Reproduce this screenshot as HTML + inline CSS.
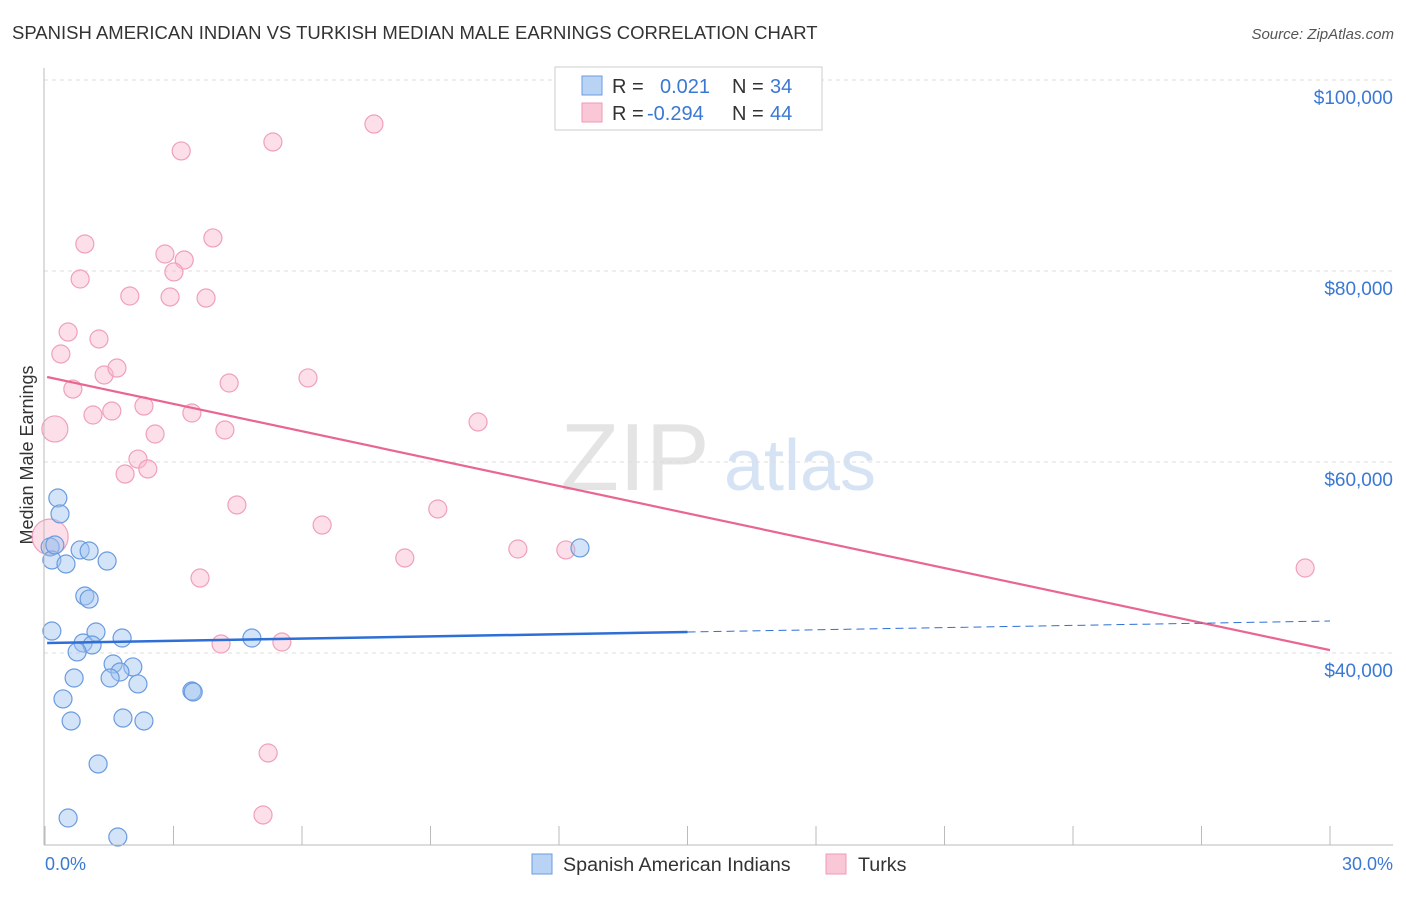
<!DOCTYPE html>
<html><head><meta charset="utf-8"><style>
body{margin:0;background:#fff;font-family:"Liberation Sans",sans-serif}
svg text{font-family:"Liberation Sans",sans-serif}
</style></head><body>
<svg width="1406" height="892" id="c">
<text x="12" y="39" font-size="18.5" fill="#333">SPANISH AMERICAN INDIAN VS TURKISH MEDIAN MALE EARNINGS CORRELATION CHART</text>
<text x="1394" y="39" font-size="15" fill="#555" text-anchor="end" font-style="italic">Source: ZipAtlas.com</text>
<text x="33" y="455" font-size="18" fill="#333" text-anchor="middle" transform="rotate(-90 33 455)">Median Male Earnings</text>
<text x="635" y="490" font-size="96" fill="#e4e4e4" font-family="Liberation Serif" text-anchor="middle">ZIP</text>
<text x="800" y="490" font-size="72" fill="#d6e3f4" text-anchor="middle">atlas</text>
<g id="grid"></g><g id="pts"></g><g id="trend"></g>
<line x1="44" y1="68" x2="44" y2="845" stroke="#bbb"/>
<line x1="44" y1="845" x2="1393" y2="845" stroke="#bbb"/>
<text x="45" y="870" font-size="18" fill="#3a78d4">0.0%</text>
<text x="1393" y="870" font-size="18" fill="#3a78d4" text-anchor="end">30.0%</text>
<g>
<rect x="555" y="67" width="267" height="63" fill="#fff" stroke="#ccc"/>
<rect x="582" y="76" width="20" height="19" fill="#b9d3f5" stroke="#6a9be0"/>
<rect x="582" y="103" width="20" height="19" fill="#f9c7d6" stroke="#f09ab5"/>
<text x="612" y="93" font-size="20" fill="#333">R = </text><text x="660" y="93" font-size="20" fill="#3a78d4">0.021</text>
<text x="732" y="93" font-size="20" fill="#333">N = </text><text x="770" y="93" font-size="20" fill="#3a78d4">34</text>
<text x="612" y="120" font-size="20" fill="#333">R = </text><text x="647" y="120" font-size="20" fill="#3a78d4">-0.294</text>
<text x="732" y="120" font-size="20" fill="#333">N = </text><text x="770" y="120" font-size="20" fill="#3a78d4">44</text>
</g>
<g>
<rect x="532" y="854" width="20" height="20" fill="#b9d3f5" stroke="#6a9be0"/>
<text x="563" y="871" font-size="19.7" fill="#333">Spanish American Indians</text>
<rect x="826" y="854" width="20" height="20" fill="#f9c7d6" stroke="#f09ab5"/>
<text x="858" y="871" font-size="19.7" fill="#333">Turks</text>
</g>
</svg>
<script>
const yTicks=[40000,60000,80000,100000];
const yTickLabels=["$40,000","$60,000","$80,000","$100,000"];
const xTicks=[0,3,6,9,12,15,18,21,24,27,30];
const blueX=[0.30,0.35,0.12,0.16,0.82,1.03,1.45,0.49,0.93,1.03,0.16,1.19,1.80,0.89,1.10,0.75,1.59,2.05,1.75,1.52,2.17,0.68,0.42,1.82,2.31,0.61,1.24,0.54,1.70,3.43,3.46,4.83,12.49,0.23];
const blueY=[56230,54560,51100,49740,50790,50680,49630,49320,45970,45650,42300,42200,41570,41050,40840,40110,38850,38540,38010,37380,36760,37380,35190,33190,32880,32880,28380,22720,20730,36020,35920,41570,51000,51310];
const pinkX=[0.93,0.82,0.54,0.37,1.26,0.65,1.38,1.68,1.12,1.56,2.31,2.57,2.17,2.40,1.87,0.23,0.12,3.18,5.32,7.68,2.80,3.25,3.01,3.92,1.98,2.92,3.76,4.30,3.43,4.20,6.14,10.11,4.48,6.47,9.17,8.40,11.04,12.16,3.62,4.11,5.53,5.21,5.09,29.42];
const pinkY=[82830,79160,73610,71310,72880,67640,69110,69840,64920,65340,65860,62930,60310,59270,58740,63460,52150,92570,93510,95390,81780,81150,79900,83460,77380,77280,77170,68270,65130,63350,68800,64190,55500,53400,55080,49950,50890,50790,47850,40940,41150,29530,23040,48900];
const pinkR=[9,9,9,9,9,9,9,9,9,9,9,9,9,9,9,13,18,9,9,9,9,9,9,9,9,9,9,9,9,9,9,9,9,9,9,9,9,9,9,9,9,9,9,9];
const blueTrend=[41050,43350];
const pinkTrend=[68900,40300];
const NS="http://www.w3.org/2000/svg";
const X=v=>45+v/30*1285;
const Y=v=>80+(100000-v)/20000*191;
function mk(t,a,p){const e=document.createElementNS(NS,t);for(const k in a)e.setAttribute(k,a[k]);p.appendChild(e);return e;}
const grid=document.getElementById('grid'),pts=document.getElementById('pts'),tr=document.getElementById('trend');
yTicks.forEach((v,i)=>{
 const l=mk('line',{x1:44,x2:1393,y1:Y(v),y2:Y(v),stroke:'#ddd','stroke-dasharray':'4,4'},grid);
 
 
 const t=mk('text',{x:1393,y:Y(v)+24,'font-size':19,fill:'#3a78d4','text-anchor':'end'},grid);
 t.textContent=yTickLabels[i];
 
 
});
xTicks.forEach(v=>{
 const l=mk('line',{x1:X(v),x2:X(v),y1:826,y2:845,stroke:'#bbb'},grid);
 
 
});
pinkX.forEach((v,i)=>{
 const c=mk('circle',{cx:X(v),cy:Y(pinkY[i]),r:pinkR[i],fill:'rgba(248,185,205,0.45)',stroke:'#f0a0ba','stroke-width':1.2},pts);
 
 
});
blueX.forEach((v,i)=>{
 const c=mk('circle',{cx:X(v),cy:Y(blueY[i]),r:9,fill:'rgba(160,196,240,0.45)',stroke:'#6a9be0','stroke-width':1.2},pts);
 
 
});
const pl=mk('line',{x1:X(0.05),y1:Y(pinkTrend[0]),x2:X(30),y2:Y(pinkTrend[1]),stroke:'#e8668f','stroke-width':2.2},tr);


const bm=(blueTrend[0]+blueTrend[1])/2;
const bl=mk('line',{x1:X(0.05),y1:Y(blueTrend[0]),x2:X(15),y2:Y(bm),stroke:'#2d6fd6','stroke-width':2.5},tr);


const bd=mk('line',{x1:X(15),y1:Y(bm),x2:X(30),y2:Y(blueTrend[1]),stroke:'#2d6fd6','stroke-width':1,'stroke-dasharray':'8,5'},tr);


</script>
</body></html>
